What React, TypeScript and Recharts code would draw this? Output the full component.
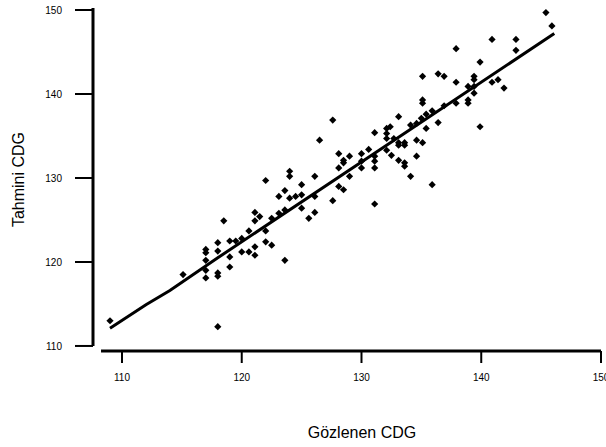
import { Label, ReferenceLine, Scatter, ScatterChart, XAxis, YAxis } from 'recharts';

// gözlenen (x) ve tahmini (y) CDG değerleri
const obsX = [
  109.0, 115.1, 117.0, 117.0, 117.0, 117.0, 117.0, 118.0, 118.0, 118.0,
  118.0, 118.0, 118.5, 119.0, 119.0, 119.0, 119.5, 120.0, 120.0, 120.6,
  120.6, 121.1, 121.1, 121.1, 121.1, 121.5, 122.0, 122.0, 122.0, 122.5,
  122.5, 123.1, 123.1, 123.6, 123.6, 123.6, 124.0, 124.0, 124.0, 124.5,
  125.0, 125.0, 125.0, 125.6, 126.1, 126.1, 126.1, 127.6, 128.1, 128.5,
  127.6, 126.5, 133.1, 131.1, 132.1, 132.1, 132.1, 132.4, 132.7, 134.1,
  134.6, 133.1, 133.6, 134.6, 130.6, 132.1, 132.5, 133.1, 133.6, 133.6,
  134.6, 134.1, 128.1, 129.0, 128.5, 128.5, 130.0, 130.0, 130.0, 131.1,
  131.1, 131.1, 128.1, 129.0, 131.1, 139.9, 135.1, 136.4, 136.9, 137.9,
  139.4, 139.4, 139.4, 139.4, 138.9, 140.9, 141.4, 141.9, 135.1, 135.1,
  136.9, 137.9, 138.9, 138.9, 135.9, 135.4, 135.0, 135.4, 136.4, 139.9,
  135.1, 133.6, 133.1, 145.4, 145.9, 140.9, 142.9, 142.9, 137.9, 135.9,
];
const predY = [
  113.0, 118.5, 121.5, 121.1, 120.2, 119.0, 118.1, 122.3, 121.3, 118.7,
  118.3, 112.3, 124.9, 122.5, 120.6, 119.4, 122.5, 122.8, 121.2, 123.7,
  121.2, 125.9, 124.9, 121.8, 120.8, 125.4, 129.7, 123.7, 122.4, 125.2,
  122.0, 127.8, 125.8, 128.5, 126.2, 120.2, 130.8, 130.2, 127.6, 127.8,
  129.2, 128.0, 126.4, 125.2, 130.2, 127.8, 125.9, 127.3, 129.0, 128.6,
  136.9, 134.5, 137.3, 135.4, 135.9, 135.3, 134.7, 136.1, 134.7, 136.3,
  136.5, 134.2, 134.2, 134.5, 133.4, 133.3, 132.7, 132.1, 131.8, 131.4,
  132.6, 130.2, 132.9, 132.6, 132.1, 131.8, 132.9, 132.0, 131.2, 132.6,
  132.0, 131.2, 131.2, 130.2, 126.9, 143.8, 142.1, 142.4, 142.1, 141.4,
  142.1, 141.7, 140.9, 140.1, 140.9, 141.4, 141.7, 140.7, 139.3, 138.9,
  138.6, 138.9, 139.3, 138.9, 138.0, 137.6, 137.1, 135.9, 136.6, 136.1,
  134.2, 133.9, 133.9, 149.7, 148.1, 146.5, 146.5, 145.2, 145.4, 129.2,
];

// düzeltilmiş eğri
const fitX = [109.0, 112.0, 114.0, 118.0, 146.1];
const fitY = [112.1, 114.9, 116.6, 120.5, 147.2];

const xTicks = [110, 120, 130, 140, 150];
const yTicks = [110, 120, 130, 140, 150];

const xDomain: [number, number] = [107.58, 150];
const yDomain: [number, number] = [109.4, 150.24];

const points = obsX.map((x, i) => ({ x, y: predY[i] }));
const fit = fitX.map((x, i) => ({ x, y: fitY[i] }));

const FONT = '"Liberation Sans", Arial, sans-serif';

const Diamond = (props: any) => {
  const { cx, cy } = props;
  const r = 3.6;
  return (
    <polygon
      points={`${cx},${cy - r} ${cx + r},${cy} ${cx},${cy + r} ${cx - r},${cy}`}
      fill="#000"
    />
  );
};

const NoDot = () => <g />;

const renderXTitle = (props: any) => {
  const { x, y, width, height } = props.viewBox;
  // başlık 110–150 tik aralığının ortasında
  const cx = x + width / 2 + 15;
  const cy = y + height - 15;
  return (
    <text
      x={cx}
      y={cy}
      textAnchor="middle"
      dominantBaseline="central"
      fontSize={16}
      fontFamily={FONT}
      fill="#000"
    >
      Gözlenen CDG
    </text>
  );
};

const renderYTitle = (props: any) => {
  const { x, y, height } = props.viewBox;
  const cx = x + 18;
  const cy = y + height / 2;
  return (
    <text
      x={cx}
      y={cy}
      transform={`rotate(-90 ${cx} ${cy})`}
      textAnchor="middle"
      dominantBaseline="central"
      fontSize={16}
      fontFamily={FONT}
      fill="#000"
    >
      Tahmini CDG
    </text>
  );
};

export default function App() {
  return (
    <div style={{ position: 'absolute', left: 0, top: 0, background: '#fff' }}>
      <ScatterChart
        width={606}
        height={447}
        margin={{ top: 8, right: 5, bottom: 0, left: 0 }}
      >
        <XAxis
          type="number"
          dataKey="x"
          domain={xDomain}
          ticks={xTicks}
          interval={0}
          allowDataOverflow
          height={96}
          axisLine={false}
          tickLine={{ stroke: '#000', strokeWidth: 2 }}
          tickSize={12}
          tickMargin={11}
          tick={{ fontSize: 10, fill: '#000', fontFamily: FONT }}
        >
          <Label content={renderXTitle} />
        </XAxis>
        <YAxis
          type="number"
          dataKey="y"
          domain={yDomain}
          ticks={yTicks}
          interval={0}
          allowDataOverflow
          width={93}
          axisLine={false}
          tickLine={{ stroke: '#000', strokeWidth: 2 }}
          tickSize={18}
          tickMargin={13}
          tick={{ fontSize: 10, fill: '#000', fontFamily: FONT }}
        >
          <Label content={renderYTitle} />
        </YAxis>
        <ReferenceLine
          segment={[
            { x: 108.25, y: yDomain[0] },
            { x: 150, y: yDomain[0] },
          ]}
          stroke="#000"
          strokeWidth={3}
          ifOverflow="visible"
        />
        <ReferenceLine
          segment={[
            { x: xDomain[0], y: 110 },
            { x: xDomain[0], y: yDomain[1] },
          ]}
          stroke="#000"
          strokeWidth={3}
          ifOverflow="visible"
        />
        <Scatter
          data={points}
          shape={Diamond}
          isAnimationActive={false}
        />
        <Scatter
          data={fit}
          line={{ stroke: '#000', strokeWidth: 3 }}
          lineType="joint"
          shape={NoDot}
          isAnimationActive={false}
        />
      </ScatterChart>
    </div>
  );
}
